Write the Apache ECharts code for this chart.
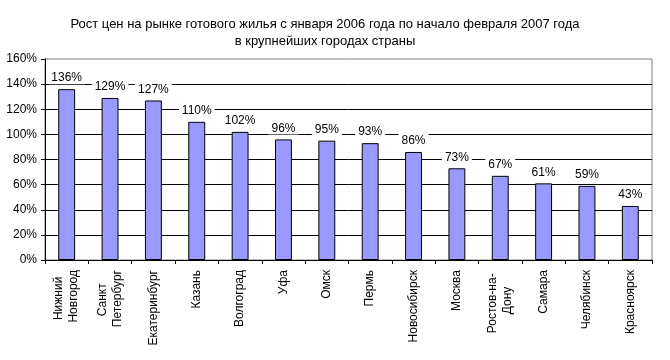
<!DOCTYPE html>
<html>
<head>
<meta charset="utf-8">
<script src="https://cdn.jsdelivr.net/npm/echarts@6/dist/echarts.min.js"></script>
<style>
html,body{margin:0;padding:0;background:#fff;}
#chart{width:670px;height:360px;}
</style>
</head>
<body>
<div id="chart"></div>
<script>
var titleText = 'Рост цен на рынке готового жилья с января 2006 года по начало февраля 2007 года\nв крупнейших городах страны';
var categories = ['Нижний  \nНовгород', 'Санкт    \nПетербург', 'Екатеринбург', 'Казань', 'Волгоград', 'Уфа', 'Омск', 'Пермь', 'Новосибирск', 'Москва', 'Ростов-на- \nДону     ', 'Самара', 'Челябинск', 'Красноярск'];
var values = [136, 129, 127, 110, 102, 96, 95, 93, 86, 73, 67, 61, 59, 43];
var yTicks = [0, 20, 40, 60, 80, 100, 120, 140, 160];

var FONT = '"Liberation Sans", Arial, sans-serif';
var chart = echarts.init(document.getElementById('chart'), null, {renderer: 'canvas'});

chart.setOption({
  animation: false,
  backgroundColor: '#ffffff',
  title: {
    text: titleText,
    left: 320,
    top: 11,
    textAlign: 'center',
    textStyle: {fontFamily: FONT, fontSize: 13, fontWeight: 'normal', color: '#000000', lineHeight: 17}
  },
  grid: {left: 45, right: 18, top: 59, bottom: 100, show: true, borderColor: '#808080', borderWidth: 1, backgroundColor: '#ffffff'},
  xAxis: {
    type: 'category',
    data: categories,
    axisLine: {lineStyle: {color: '#000000', width: 1}},
    axisTick: {show: true, length: 4, alignWithLabel: false, lineStyle: {color: '#000000'}},
    axisLabel: {interval: 0, rotate: 90, margin: 10, fontFamily: FONT, fontSize: 12, lineHeight: 15, color: '#000000'}
  },
  yAxis: {
    type: 'value',
    min: yTicks[0],
    max: yTicks[yTicks.length - 1],
    interval: 20,
    axisLine: {show: true, lineStyle: {color: '#000000', width: 1}},
    axisTick: {show: true, length: 4, lineStyle: {color: '#000000'}},
    axisLabel: {formatter: '{value}%', margin: 8, fontFamily: FONT, fontSize: 12, color: '#000000'},
    splitLine: {show: true, showMaxLine: false, lineStyle: {color: '#000000', width: 1}}
  },
  series: [{
    type: 'bar',
    data: values,
    barCategoryGap: '61%',
    itemStyle: {color: '#9999FF', borderColor: '#000000', borderWidth: 1},
    label: {
      show: true,
      position: 'top',
      distance: 5,
      formatter: '{c}%',
      fontFamily: FONT,
      fontSize: 12,
      color: '#000000',
      backgroundColor: '#ffffff',
      padding: [1, 3, 0, 3]
    }
  }]
});
</script>
</body>
</html>
